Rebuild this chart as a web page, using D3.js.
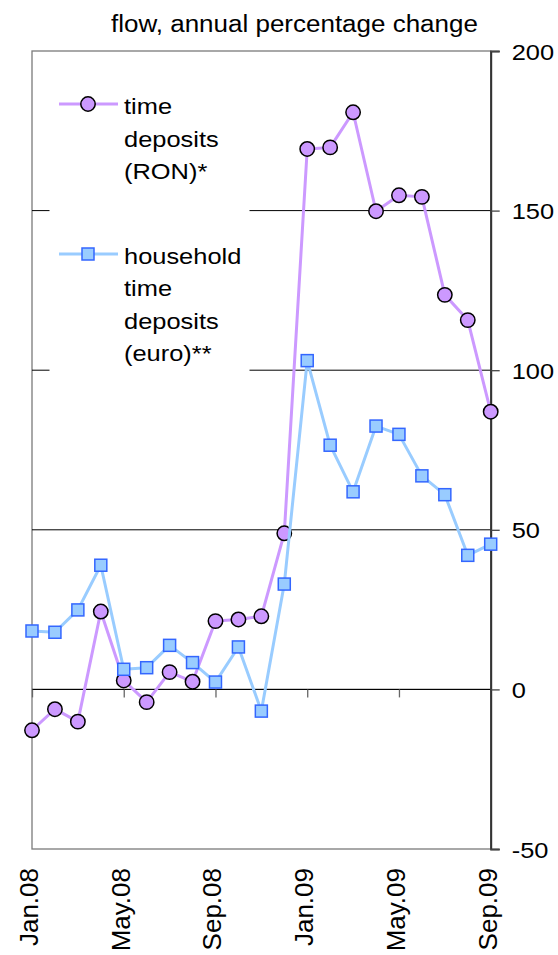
<!DOCTYPE html>
<html>
<head>
<meta charset="utf-8">
<script src="https://cdn.jsdelivr.net/npm/d3@7"></script>
<style>
  html, body { margin: 0; padding: 0; background: #fff; }
  svg { display: block; font-family: "Liberation Sans", Arial, sans-serif; }
</style>
</head>
<body>
<svg id="chart" width="558" height="955"></svg>
<script>
// Monthly categories, Jan 2008 – Sep 2009
const months = ["Jan.08","Feb.08","Mar.08","Apr.08","May.08","Jun.08","Jul.08","Aug.08","Sep.08","Oct.08","Nov.08","Dec.08",
                "Jan.09","Feb.09","Mar.09","Apr.09","May.09","Jun.09","Jul.09","Aug.09","Sep.09"];
// Time deposits (RON), flow, annual % change
const ron = [-12.8,-6.2,-10.1,24.4,2.8,-4.0,5.4,2.4,21.4,21.9,22.9,48.9,
             169.3,169.8,180.8,149.8,154.8,154.3,123.6,115.7,87.0];
// Household time deposits (euro), flow, annual % change
const euro = [18.3,17.9,24.9,38.9,6.3,6.8,13.8,8.4,2.3,13.3,-6.8,33.0,
              103.0,76.5,61.9,82.5,79.9,66.9,61.0,42.0,45.5];
const xTickLabels = ["Jan.08","May.08","Sep.08","Jan.09","May.09","Sep.09"];
const yTicks = [-50,0,50,100,150,200];
const seriesNames = [["time","deposits","(RON)*"],["household","time","deposits","(euro)**"]];
const titleText = "flow, annual percentage change";

const svg = d3.select("#chart");
const plotLeft = 32, plotRight = 490.7, plotTop = 51, plotBottom = 849;
const SX = 1.13; // horizontal widening of the glyphs

const x = d3.scalePoint().domain(months).range([plotLeft, plotRight]);
const y = d3.scaleLinear().domain([-50, 200]).range([plotBottom, plotTop]);

// text helper: widened glyphs anchored at (tx, ty)
function wideText(sel, tx, ty, str, size) {
  return sel.append("text")
    .attr("transform", `translate(${tx},${ty}) scale(${SX},1)`)
    .attr("font-size", size).attr("fill", "#000").text(str);
}

// plot frame
svg.append("rect").attr("x", plotLeft).attr("y", plotTop)
  .attr("width", plotRight - plotLeft).attr("height", plotBottom - plotTop)
  .attr("fill", "none").attr("stroke", "#7a7a7a").attr("stroke-width", 1.3);

// horizontal gridlines
svg.append("g").selectAll("line").data(yTicks.filter(d => d !== 200 && d !== -50)).join("line")
  .attr("x1", plotLeft).attr("x2", plotRight)
  .attr("y1", d => y(d)).attr("y2", d => y(d))
  .attr("stroke", "#000").attr("stroke-width", 1);

// legend background hides the gridlines behind it
svg.append("rect").attr("x", 49.5).attr("y", 72).attr("width", 200).attr("height", 306).attr("fill", "#fff");

// category axis along zero
const xAxis = svg.append("g").attr("transform", `translate(0,${y(0)})`)
  .call(d3.axisBottom(x).tickValues(xTickLabels).tickSize(8).tickFormat(""));
xAxis.select(".domain").attr("stroke", "#000").attr("d", `M${plotLeft},0H${plotRight}`);
xAxis.selectAll(".tick line").attr("stroke", "#666").attr("stroke-width", 1.3);

// value axis on the right
const yAxis = svg.append("g").attr("transform", `translate(${plotRight},0)`)
  .call(d3.axisRight(y).tickValues(yTicks).tickSize(9).tickPadding(12).tickFormat(d => String(d)));
yAxis.select(".domain").attr("stroke", "#333").attr("stroke-width", 2);
yAxis.selectAll(".tick line").attr("stroke", "#444").attr("stroke-width", 1.3);
yAxis.selectAll(".tick text")
  .attr("font-size", 22.5).attr("fill", "#000").attr("text-anchor", "start")
  .attr("font-family", "Liberation Sans, Arial, sans-serif")
  .attr("transform", `translate(21,0) scale(${SX},1)`).attr("x", 0).attr("dy", "0.36em");

// category labels, rotated
svg.append("g").selectAll("text").data(xTickLabels).join("text")
  .attr("transform", d => `translate(${x(d) - 3.5},868) rotate(-90)`)
  .attr("text-anchor", "end").attr("dy", "0.36em")
  .attr("font-size", 26).attr("fill", "#000").text(d => d);

// title
wideText(svg, 111, 31.5, titleText, 23);

// series
const ronColor = "#cc99ff", euroColor = "#99ccff";
const line = d3.line().x((d, i) => x(months[i])).y(d => y(d));

svg.append("path").datum(ron).attr("d", line)
  .attr("fill", "none").attr("stroke", ronColor).attr("stroke-width", 3).attr("stroke-linejoin", "round");
svg.append("g").selectAll("circle").data(ron).join("circle")
  .attr("cx", (d, i) => x(months[i])).attr("cy", d => y(d)).attr("r", 7.2)
  .attr("fill", ronColor).attr("stroke", "#000").attr("stroke-width", 1.5);

svg.append("path").datum(euro).attr("d", line)
  .attr("fill", "none").attr("stroke", euroColor).attr("stroke-width", 3).attr("stroke-linejoin", "round");
svg.append("g").selectAll("rect").data(euro).join("rect")
  .attr("x", (d, i) => x(months[i]) - 6).attr("y", d => y(d) - 6)
  .attr("width", 12).attr("height", 12)
  .attr("fill", euroColor).attr("stroke", "#3366ff").attr("stroke-width", 1.5);

// legend
const lg = svg.append("g");
lg.append("line").attr("x1", 59).attr("x2", 118).attr("y1", 104).attr("y2", 104)
  .attr("stroke", ronColor).attr("stroke-width", 3);
lg.append("circle").attr("cx", 88).attr("cy", 104).attr("r", 7.2)
  .attr("fill", ronColor).attr("stroke", "#000").attr("stroke-width", 1.5);
seriesNames[0].forEach((t, i) => wideText(lg, 124, 114 + i * 32.5, t, 22.5));

lg.append("line").attr("x1", 59).attr("x2", 118).attr("y1", 254).attr("y2", 254)
  .attr("stroke", euroColor).attr("stroke-width", 3);
lg.append("rect").attr("x", 82).attr("y", 248).attr("width", 12).attr("height", 12)
  .attr("fill", euroColor).attr("stroke", "#3366ff").attr("stroke-width", 1.5);
seriesNames[1].forEach((t, i) => wideText(lg, 124, 263.5 + i * 32.5, t, 22.5));
</script>
</body>
</html>
